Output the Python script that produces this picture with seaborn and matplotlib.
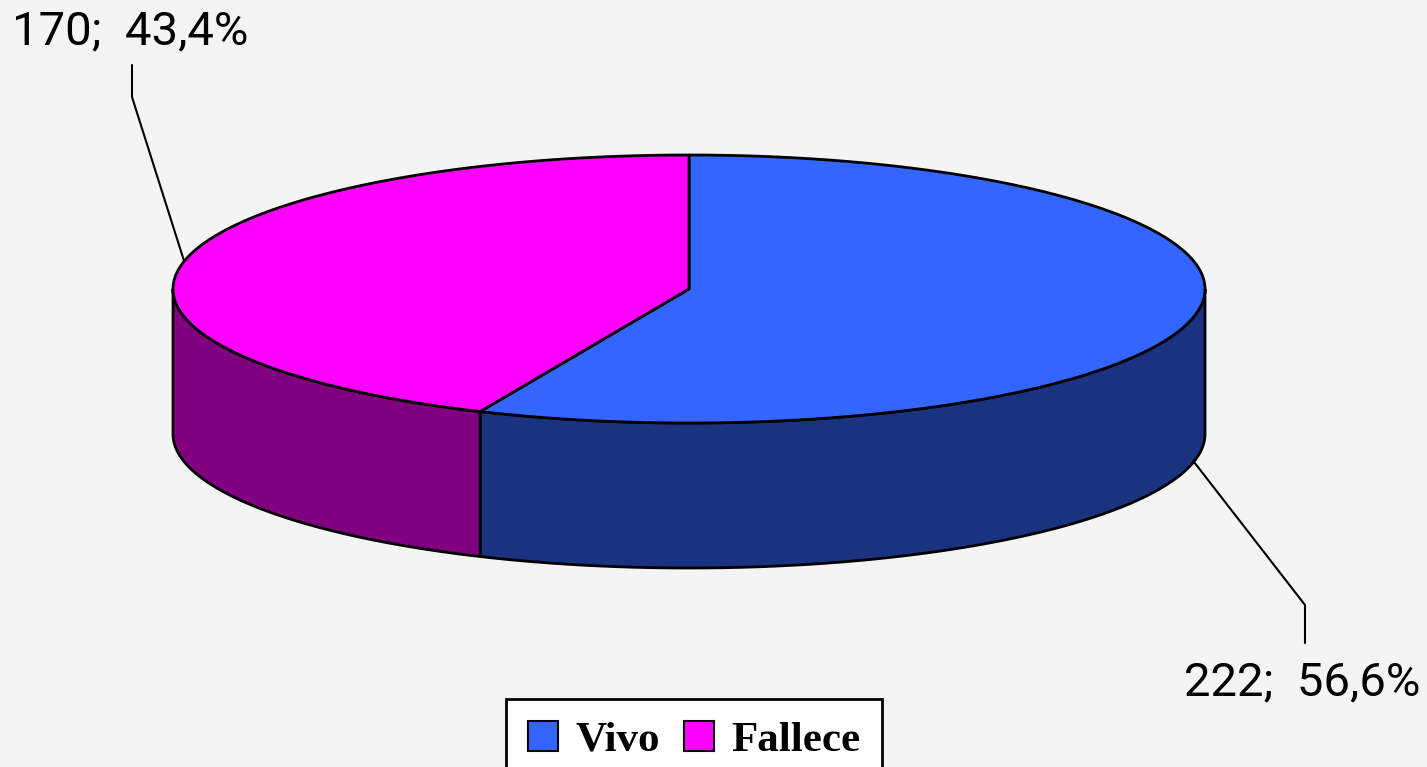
import numpy as np
import matplotlib.pyplot as plt
import seaborn as sns
from matplotlib.patches import Polygon, Patch

# data
labels = ["Vivo", "Fallece"]
counts = [222, 170]
top_colors = ["#3366FF", "#FF00FF"]
side_colors = ["#1A3380", "#800080"]

sns.set_theme(style="white")
plt.rcParams['font.family'] = ['Roboto', 'DejaVu Sans']

W, H = 1427, 767
fig = plt.figure(figsize=(W / 100, H / 100), dpi=100)
fig.patch.set_facecolor("#F4F4F4")
ax = fig.add_axes([0, 0, 1, 1])
ax.set_xlim(0, W)
ax.set_ylim(H, 0)
ax.axis('off')
ax.set_facecolor("#F4F4F4")

# pie geometry (pixel space)
cx, cy, rx, ry, depth = 689, 289, 516, 134, 145

def pt(theta, dz=0):
    t = np.radians(theta)
    return cx + rx * np.cos(t), cy - ry * np.sin(t) + dz

fracs = np.array(counts) / sum(counts)
# clockwise from 12 o'clock
starts = 90 - np.concatenate([[0], np.cumsum(fracs)[:-1]]) * 360
ends = starts - fracs * 360

# sides (front half only: 180..360)
for s, e, col in zip(starts, ends, side_colors):
    lo, hi = min(s, e), max(s, e)
    for shift in (-360, 0, 360):
        a0, a1 = max(lo + shift, 180), min(hi + shift, 360)
        if a1 > a0:
            th = np.linspace(a0, a1, 200)
            top = [pt(t) for t in th]
            bot = [pt(t, depth) for t in th[::-1]]
            ax.add_patch(Polygon(top + bot, closed=True, facecolor=col,
                                 edgecolor="black", lw=2, joinstyle="round"))

# top faces
for s, e, col in zip(starts, ends, top_colors):
    th = np.linspace(s, e, 300)
    poly = [(cx, cy)] + [pt(t) for t in th]
    ax.add_patch(Polygon(poly, closed=True, facecolor=col,
                         edgecolor="black", lw=2, joinstyle="round"))

# labels with leader lines
mids = (starts + ends) / 2
for i, (n, f, m) in enumerate(zip(counts, fracs, mids)):
    txt = f"{n};  {f * 100:.1f}%".replace(".", ",")
    if np.sin(np.radians(m)) < 0:
        x0, y0 = pt(m, depth)
    else:
        x0, y0 = pt(m)
    if i == 0:
        ax.plot([x0, 1305, 1305], [y0, 605, 643], color="black", lw=1.5)
        ax.text(1420, 682, txt, ha="right", va="center", fontsize=34, color="black")
    else:
        ax.plot([x0, 132, 132], [y0, 97, 65], color="black", lw=1.5)
        ax.text(12, 31, txt, ha="left", va="center", fontsize=34, color="black")

handles = [Patch(facecolor=c, edgecolor="black", lw=1.5) for c in top_colors]
leg = fig.legend(handles, labels, loc="upper center", bbox_to_anchor=(694 / W, 1 - 699 / H),
                 ncol=2, frameon=True, fancybox=False, handlelength=0.7, handleheight=0.7,
                 handletextpad=0.4, columnspacing=0.55, borderpad=0.5, borderaxespad=0,
                 labelcolor="black",
                 prop={"family": "Liberation Serif", "weight": "bold", "size": 31})
leg.get_frame().set_edgecolor("black")
leg.get_frame().set_linewidth(2)
leg.get_frame().set_facecolor("white")
leg.get_frame().set_alpha(1)

fig.savefig("out.png", dpi=100, facecolor=fig.get_facecolor())
